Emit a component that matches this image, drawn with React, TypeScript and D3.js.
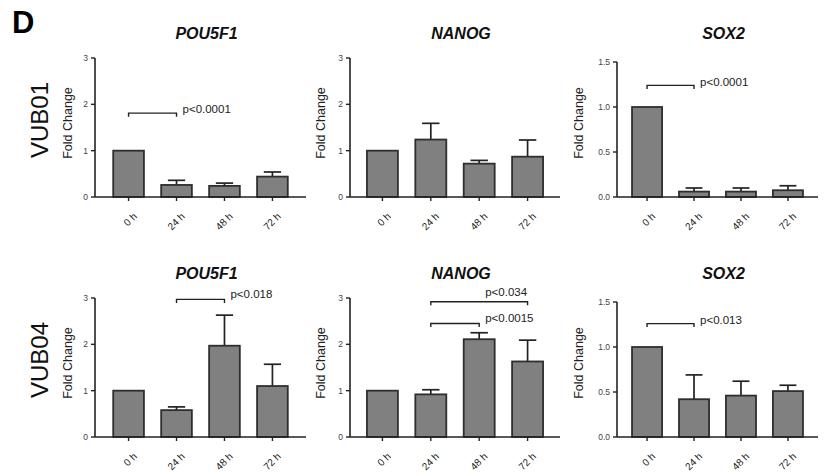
import React from "react";
import * as d3 from "d3";

const categories = ["0 h", "24 h", "48 h", "72 h"];
const rowLabels = ["VUB01", "VUB04"];
const geneLabels = ["POU5F1", "NANOG", "SOX2"];

// means and upper error (SEM) per panel
const vub01Pou5f1 = [1.0, 0.26, 0.24, 0.44];
const vub01Pou5f1Err = [0, 0.1, 0.06, 0.1];
const vub01Nanog = [1.0, 1.24, 0.72, 0.87];
const vub01NanogErr = [0, 0.35, 0.07, 0.36];
const vub01Sox2 = [1.0, 0.06, 0.06, 0.075];
const vub01Sox2Err = [0, 0.04, 0.04, 0.05];
const vub04Pou5f1 = [1.0, 0.58, 1.97, 1.1];
const vub04Pou5f1Err = [0, 0.07, 0.66, 0.47];
const vub04Nanog = [1.0, 0.92, 2.11, 1.63];
const vub04NanogErr = [0, 0.1, 0.14, 0.46];
const vub04Sox2 = [1.0, 0.42, 0.46, 0.51];
const vub04Sox2Err = [0, 0.27, 0.16, 0.065];

const ticksPou = [0, 1, 2, 3];
const ticksSox = [0, 0.5, 1.0, 1.5];

type Sig = { from: string; to: string; y: number; label: string; labelAt: string; labelY: number };

const sigVub01Pou5f1: Sig[] = [{ from: "0 h", to: "24 h", y: 1.81, label: "p<0.0001", labelAt: "24 h", labelY: 1.91 }];
const sigVub01Nanog: Sig[] = [];
const sigVub01Sox2: Sig[] = [{ from: "0 h", to: "24 h", y: 1.24, label: "p<0.0001", labelAt: "24 h", labelY: 1.28 }];
const sigVub04Pou5f1: Sig[] = [{ from: "24 h", to: "48 h", y: 2.97, label: "p<0.018", labelAt: "48 h", labelY: 3.08 }];
const sigVub04Nanog: Sig[] = [
  { from: "24 h", to: "72 h", y: 2.92, label: "p<0.034", labelAt: "48 h", labelY: 3.14 },
  { from: "24 h", to: "48 h", y: 2.45, label: "p<0.0015", labelAt: "48 h", labelY: 2.57 },
];
const sigVub04Sox2: Sig[] = [{ from: "0 h", to: "24 h", y: 1.26, label: "p<0.013", labelAt: "24 h", labelY: 1.305 }];

const panels = [
  { row: 0, col: 0, values: vub01Pou5f1, errs: vub01Pou5f1Err, max: 3, ticks: ticksPou, fmt: "d", sig: sigVub01Pou5f1 },
  { row: 0, col: 1, values: vub01Nanog, errs: vub01NanogErr, max: 3, ticks: ticksPou, fmt: "d", sig: sigVub01Nanog },
  { row: 0, col: 2, values: vub01Sox2, errs: vub01Sox2Err, max: 1.5, ticks: ticksSox, fmt: ".1f", sig: sigVub01Sox2 },
  { row: 1, col: 0, values: vub04Pou5f1, errs: vub04Pou5f1Err, max: 3, ticks: ticksPou, fmt: "d", sig: sigVub04Pou5f1 },
  { row: 1, col: 1, values: vub04Nanog, errs: vub04NanogErr, max: 3, ticks: ticksPou, fmt: "d", sig: sigVub04Nanog },
  { row: 1, col: 2, values: vub04Sox2, errs: vub04Sox2Err, max: 1.5, ticks: ticksSox, fmt: ".1f", sig: sigVub04Sox2 },
];

const colAxisX = [95, 350, 617];
const colWidth = [211, 210, 201];
const colPad = [0.7, 0.67, 0.64];
const colHeight = [139, 139, 135];
const colFoldX = [72, 325, 583];
const rowBase = [197, 437];

const FONT = "'Liberation Sans', Arial, Helvetica, sans-serif";
const AX = "#222";

function Panel({ p }: { p: (typeof panels)[number] }) {
  const ax = colAxisX[p.col];
  const w = colWidth[p.col];
  const y0 = rowBase[p.row];
  const h = colHeight[p.col];
  const x = d3.scalePoint<string>().domain(categories).range([ax, ax + w]).padding(colPad[p.col]);
  const y = d3.scaleLinear().domain([0, p.max]).range([y0, y0 - h]);
  const step = x.step();
  const bw = step * 0.64;
  const cap = step * 0.36;
  const fmt = d3.format(p.fmt);
  return (
    <g>
      <text x={ax + w / 2 + 6} y={y0 - 158} textAnchor="middle" fontFamily={FONT} fontWeight="bold" fontStyle="italic" fontSize={16} fill="#111">
        {geneLabels[p.col]}
      </text>
      <text transform={`translate(${colFoldX[p.col]},${y0 - 74}) rotate(-90)`} textAnchor="middle" fontFamily={FONT} fontSize={12.5} fill="#222">
        Fold Change
      </text>
      {/* bars */}
      {categories.map((c, i) => {
        const cx = x(c)!;
        const top = y(p.values[i]);
        const errTop = y(p.values[i] + p.errs[i]);
        return (
          <g key={c}>
            {p.errs[i] > 0 && (
              <g stroke={AX} strokeWidth={1.7}>
                <line x1={cx} x2={cx} y1={top} y2={errTop} />
                <line x1={cx - cap / 2} x2={cx + cap / 2} y1={errTop} y2={errTop} />
              </g>
            )}
            <rect x={cx - bw / 2} y={top} width={bw} height={y0 - top} fill="#808080" stroke="#2e2e2e" strokeWidth={1.8} />
          </g>
        );
      })}
      {/* y axis */}
      <line x1={ax} x2={ax} y1={y0} y2={y(p.max)} stroke={AX} strokeWidth={1.6} />
      {p.ticks.map((t) => (
        <g key={t}>
          <line x1={ax - 4} x2={ax} y1={y(t)} y2={y(t)} stroke={AX} strokeWidth={1.4} />
          <text x={ax - 7} y={y(t)} dy="0.35em" textAnchor="end" fontFamily={FONT} fontSize={8.5} fill="#444">
            {fmt(t)}
          </text>
        </g>
      ))}
      {/* x axis */}
      <line x1={ax} x2={ax + w} y1={y0} y2={y0} stroke={AX} strokeWidth={1.6} />
      {categories.map((c) => (
        <g key={c}>
          <line x1={x(c)!} x2={x(c)!} y1={y0} y2={y0 + 4} stroke={AX} strokeWidth={1.4} />
          <text transform={`translate(${x(c)! + 9},${y0 + 20}) rotate(-45)`} textAnchor="end" fontFamily={FONT} fontSize={10} fill="#222">
            {c}
          </text>
        </g>
      ))}
      {/* significance */}
      {p.sig.map((s) => {
        const x1 = x(s.from)!;
        const x2 = x(s.to)!;
        const yy = y(s.y);
        return (
          <g key={s.label}>
            <path d={`M${x1},${yy + 3.5}V${yy}H${x2}V${yy + 3.5}`} fill="none" stroke={AX} strokeWidth={1.4} />
            <text x={x(s.labelAt)! + 6} y={y(s.labelY)} dy="0.35em" fontFamily={FONT} fontSize={11.5} fill="#222">
              {s.label}
            </text>
          </g>
        );
      })}
    </g>
  );
}

export default function App() {
  return (
    <svg width={830} height={476} style={{ position: "absolute", left: 0, top: 0, background: "#fff" }}>
      <rect width={830} height={476} fill="#fff" />
      <text x={12} y={33} fontFamily={FONT} fontWeight="bold" fontSize={31} fill="#000">
        D
      </text>
      {rowLabels.map((r, i) => (
        <text key={r} transform={`translate(${48},${rowBase[i] - 77}) rotate(-90)`} textAnchor="middle" fontFamily={FONT} fontSize={24} fill="#111">
          {r}
        </text>
      ))}
      {panels.map((p, i) => (
        <Panel key={i} p={p} />
      ))}
    </svg>
  );
}
